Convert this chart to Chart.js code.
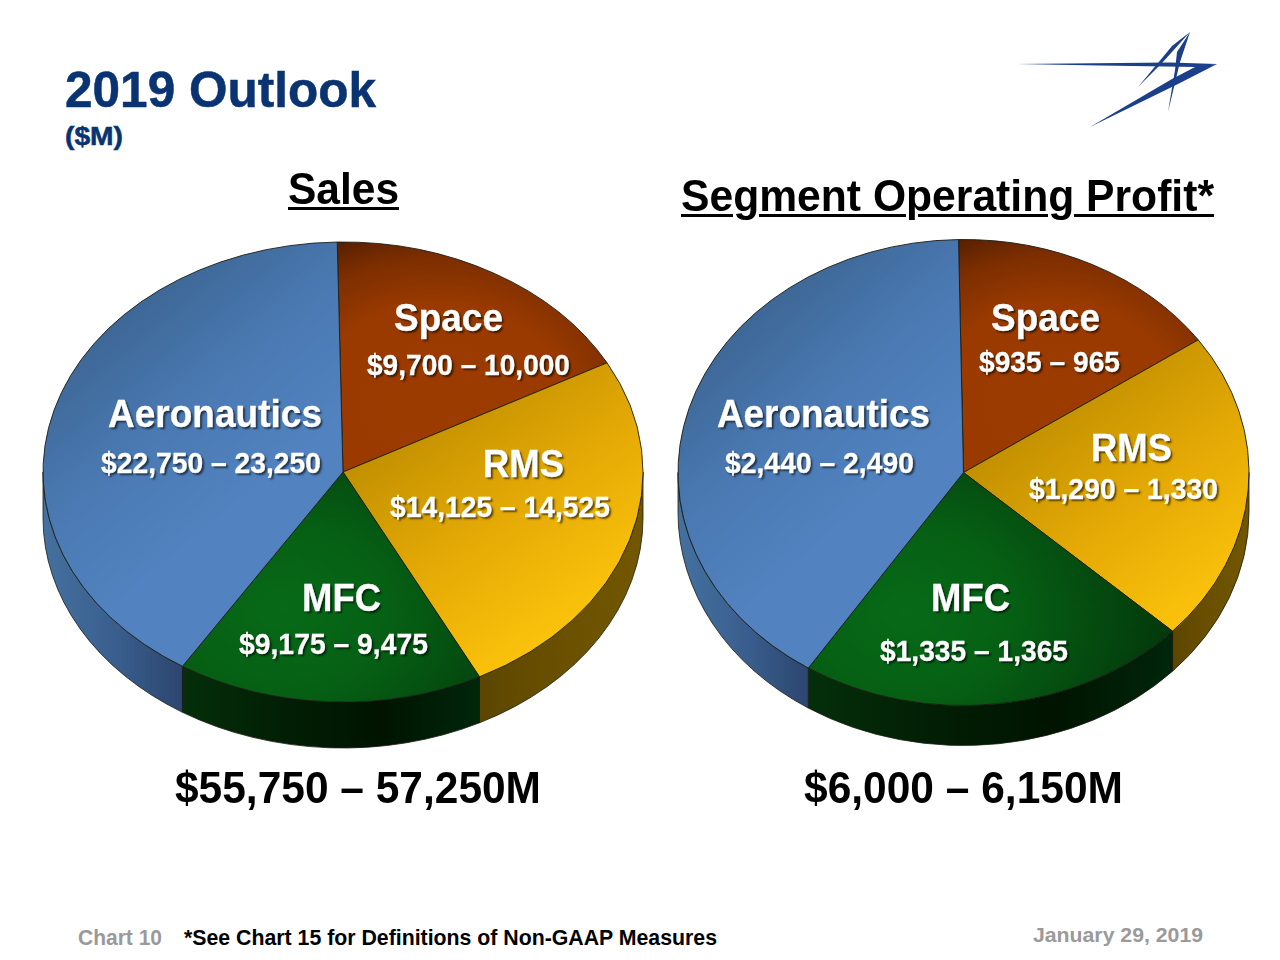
<!DOCTYPE html>
<html>
<head>
<meta charset="utf-8">
<title>2019 Outlook</title>
<script src="https://cdn.jsdelivr.net/npm/chart.js@4/dist/chart.umd.min.js"></script>
<style>
  html, body { margin: 0; padding: 0; background: #fff; }
  #page { position: relative; width: 1280px; height: 960px; overflow: hidden; font-family: "Liberation Sans", Arial, sans-serif; font-weight: bold; }
  canvas { position: absolute; }
  svg { position: absolute; left: 0; top: 0; }
  .txt { position: absolute; white-space: nowrap; transform-origin: 0 0; line-height: normal; }
  .title { color: #0a3372; -webkit-text-stroke: 0.5px #0a3372; }
  .head { color: #000; text-decoration: underline; text-decoration-thickness: 3px; text-underline-offset: 3px; }
  .total { color: #000; }
  .slice { color: #fff; text-shadow: 2px 2px 2px rgba(0,0,0,.6); -webkit-text-stroke: 0.3px #fff; }
  .grey { color: #9a9a9a; }
  .note { color: #000; }
</style>
</head>
<body>
<div id="page">
  <svg width="1280" height="960">
    <g fill="#1b3f8b">
      <polygon points="1017,64 1170,62.5 1217,64 1196,67 1100,65.5"/>
      <polygon points="1217,64 1178,84 1090,127 1172,79 1197,66"/>
      <polygon points="1190,32 1180,62 1168,112 1175,70 1177,52"/>
      <polygon points="1190,32 1162,63 1138,87 1158,63 1172,46"/>
    </g>
  </svg>
  <canvas id="salesPie" width="640" height="640" style="left:23px;top:152px"></canvas>
  <canvas id="profitPie" width="611" height="611" style="left:657.5px;top:166.5px"></canvas>
</div>
<script>
const categories = ['Space', 'RMS', 'MFC', 'Aeronautics'];
const salesValues = [9850, 14325, 9325, 23000];
const profitValues = [950, 1310, 1350, 2465];
const salesRanges = ['$9,700 – 10,000', '$14,125 – 14,525', '$9,175 – 9,475', '$22,750 – 23,250'];
const profitRanges = ['$935 – 965', '$1,290 – 1,330', '$1,335 – 1,365', '$2,440 – 2,490'];

// top face gradients, given in unit circle coords before the tilt
const faceFills = {
    Space: { c: [0.32, -0.3], r: 0.85, stops: [[0, '#9c3b00'], [0.5, '#9a3a00'], [0.75, '#7c2e00'], [1, '#421800']] },
    RMS: { from: [0, 0], to: [0.7, 0.75], stops: [[0, '#c29000'], [0.5, '#e5aa05'], [1, '#fcc40c']] },
    MFC: { c: [-0.2, 0.6], r: 0.9, stops: [[0, '#076a18'], [0.4, '#066014'], [1, '#033a0c']] },
    Aeronautics: { from: [-0.85, -0.6], to: [-0.2, 0], stops: [[0, '#3c6694'], [0.5, '#4a79b2'], [1, '#5283c0']] }
};
const wallFills = {
    Space: ['#5a2300', '#5a2300'],
    RMS: ['#5c4600', '#6a5000', '#735700'],
    MFC: ['#042f0a', '#021f05', '#001400', '#00260a'],
    Aeronautics: ['#44719f', '#3a5f8f', '#2c466f']
};

function faceColor(context) {
    const chart = context.chart;
    const def = faceFills[categories[context.dataIndex]];
    if (!def) return '#000';
    const cx = chart.width / 2, cy = chart.height / 2, R = chart.width / 2 - 20;
    const g = def.c
        ? chart.ctx.createRadialGradient(cx + def.c[0] * R, cy + def.c[1] * R, 0, cx + def.c[0] * R, cy + def.c[1] * R, def.r * R)
        : chart.ctx.createLinearGradient(cx + def.from[0] * R, cy + def.from[1] * R, cx + def.to[0] * R, cy + def.to[1] * R);
    def.stops.forEach(s => g.addColorStop(s[0], s[1]));
    return g;
}

// squash the round pie into an ellipse and draw the side wall under it
const tiltPlugin = {
    id: 'tilt',
    beforeDatasetsDraw(chart, args, opts) {
        const ctx = chart.ctx;
        const arcs = chart.getDatasetMeta(0).data;
        const cx = arcs[0].x, cy = arcs[0].y, rx = arcs[0].outerRadius, ry = rx * opts.squash;
        arcs.forEach((arc, i) => {
            const a = Math.max(arc.startAngle, 0), b = Math.min(arc.endAngle, Math.PI);
            if (b <= a) return;
            const x0 = cx + rx * Math.cos(b), x1 = a <= 0 ? cx + rx : cx + rx * Math.cos(a);
            const g = ctx.createLinearGradient(x0, 0, x1, 0);
            const cols = wallFills[categories[i]];
            cols.forEach((c, n) => g.addColorStop(n / (cols.length - 1), c));
            ctx.beginPath();
            ctx.ellipse(cx, cy, rx, ry, 0, a, b);
            ctx.ellipse(cx, cy + opts.depth, rx, ry, 0, b, a, true);
            ctx.closePath();
            ctx.fillStyle = g;
            ctx.fill();
            ctx.strokeStyle = '#1a1a10';
            ctx.lineWidth = 0.8;
            ctx.stroke();
        });
        ctx.save();
        ctx.translate(cx, cy);
        ctx.scale(1, opts.squash);
        ctx.translate(-cx, -cy);
    },
    afterDatasetsDraw(chart) {
        chart.ctx.restore();
    }
};

function makePie(id, values, squash, depth, rotation) {
    return new Chart(document.getElementById(id), {
        type: 'pie',
        data: {
            labels: categories,
            datasets: [{
                data: values,
                backgroundColor: faceColor,
                borderColor: '#1c1c14',
                borderWidth: 1
            }]
        },
        options: {
            responsive: false,
            animation: false,
            rotation: rotation,
            layout: { padding: 19.5 },
            plugins: {
                legend: { display: false },
                tooltip: { enabled: false },
                tilt: { squash: squash, depth: depth }
            }
        },
        plugins: [tiltPlugin]
    });
}

makePie('salesPie', salesValues, 230 / 300, 46, -1.1);
makePie('profitPie', profitValues, 233 / 285.5, 40, -1);

// text, left, right, baseline, font size, class
function place(text, left, right, baseline, size, cls) {
    const el = document.createElement('div');
    el.className = 'txt ' + cls;
    el.textContent = text;
    el.style.fontSize = size + 'px';
    el.style.left = left + 'px';
    el.style.top = (baseline - size * 0.92) + 'px';
    document.getElementById('page').appendChild(el);
    el.style.transform = 'scaleX(' + ((right - left) / el.getBoundingClientRect().width) + ')';
}

place('2019 Outlook', 65, 376, 107, 50, 'title');
place('($M)', 65, 123, 145, 25, 'title');
place('Sales', 288, 399, 204, 44, 'head');
place('Segment Operating Profit*', 681, 1214, 211, 44, 'head');
place('$55,750 – 57,250M', 175, 541, 803, 44, 'total');
place('$6,000 – 6,150M', 804, 1123, 803, 44, 'total');
place('Chart 10', 78, 162, 945, 22, 'grey');
place('*See Chart 15 for Definitions of Non-GAAP Measures', 184, 717, 945, 22, 'note');
place('January 29, 2019', 1033, 1203, 942, 21, 'grey');

const salesNameBoxes = [[394, 503, 332], [483, 564, 478], [302, 381, 612], [108, 322, 428]];
const salesRangeBoxes = [[367, 570, 376], [390, 610, 518], [239, 428, 655], [101, 321, 474]];
const profitNameBoxes = [[991, 1100, 332], [1091, 1172, 462], [931, 1010, 612], [717, 930, 428]];
const profitRangeBoxes = [[979, 1120, 373], [1029, 1218, 500], [880, 1068, 662], [725, 914, 474]];

categories.forEach((name, i) => {
    place(name, salesNameBoxes[i][0], salesNameBoxes[i][1], salesNameBoxes[i][2], 38, 'slice');
    place(salesRanges[i], salesRangeBoxes[i][0], salesRangeBoxes[i][1], salesRangeBoxes[i][2], 29, 'slice');
    place(name, profitNameBoxes[i][0], profitNameBoxes[i][1], profitNameBoxes[i][2], 38, 'slice');
    place(profitRanges[i], profitRangeBoxes[i][0], profitRangeBoxes[i][1], profitRangeBoxes[i][2], 29, 'slice');
});
</script>
</body>
</html>
